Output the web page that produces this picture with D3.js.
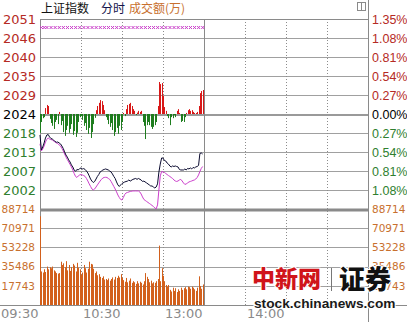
<!DOCTYPE html>
<html>
<head>
<meta charset="utf-8">
<script src="https://cdn.jsdelivr.net/npm/d3@7"></script>
<style>
html,body{margin:0;padding:0;background:#fff;}
svg{display:block;}
</style>
</head>
<body>
<div class="chart" style="width:407px;height:322px"></div>
<script>
//Data
const PREV_CLOSE = 2023.8;
const pctTicks = [1.35, 1.08, 0.81, 0.54, 0.27, 0, -0.27, -0.54, -0.81, -1.08];
const priceLabels = ['2051','2046','2040','2035','2029','2024','2018','2013','2007','2002'];
const pctLabels = ['1.35%','1.08%','0.81%','0.54%','0.27%','0.00%','0.27%','0.54%','0.81%','1.08%'];
const volTicks = [88714, 70971, 53228, 35486, 17743];
const gridMinutes = [30, 60, 90, 150, 180, 210];
const timeLabels = [[0,'09:30'], [60,'10:30'], [120,'13:00'], [180,'14:00']];

//index line, [minute, value]
const indexLine = [[0,2017.76],[1,2013.45],[2,2014.3],[3,2015.47],[4,2016.9],[5,2017.76],[6,2017.9],[7,2017.2],[8,2016.76],[9,2016.6],
	[10,2016.3],[11,2015.9],[12,2015.67],[13,2015.75],[14,2015.47],[15,2015.2],[16,2014.6],[17,2013.9],[18,2012.9],[19,2012.0],
	[20,2011.4],[21,2010.6],[22,2010.0],[23,2009.15],[24,2008.57],[25,2007.7],[26,2007.3],[27,2007.85],[28,2007.7],[29,2008.1],
	[30,2008.28],[31,2008.0],[32,2008.1],[33,2007.85],[34,2007.4],[35,2006.84],[36,2006.0],[37,2005.1],[38,2004.5],[39,2004.1],
	[40,2004.4],[41,2005.1],[42,2005.84],[43,2006.4],[44,2007.13],[45,2007.4],[46,2007.7],[47,2007.85],[48,2008.0],[49,2007.85],
	[50,2007.7],[51,2007.4],[52,2007.13],[53,2006.56],[54,2005.84],[55,2005.26],[56,2004.26],[57,2003.4],[58,2002.96],[59,2003.4],
	[60,2003.8],[62,2004.26],[64,2004.5],[65,2004.83],[66,2004.5],[68,2005.0],[70,2005.26],[71,2005.0],[72,2005.26],[74,2004.83],
	[75,2004.4],[76,2004.5],[78,2003.97],[80,2003.4],[81,2003.1],[82,2003.1],[83,2002.8],[84,2002.53],[85,2002.8],[86,2003.7],
	[87,2007.1],[88,2009.4],[89,2011.15],[90,2011.15],[91,2010.44],[92,2010.3],[93,2009.7],[94,2009.4],[95,2008.85],[96,2008.57],
	[97,2008.85],[98,2008.7],[99,2008.85],[100,2008.7],[101,2008.57],[102,2007.85],[103,2007.7],[104,2007.7],[105,2007.7],[106,2008.0],
	[107,2007.7],[108,2008.14],[109,2008.0],[110,2008.28],[111,2008.0],[112,2008.42],[113,2008.28],[114,2008.57],[115,2008.7],[116,2009.0],
	[117,2012.45],[118,2012.6],[119,2012.3]];

//average line, [minute, value]
const avgLine = [[0,2015.2],[1,2013.17],[2,2013.75],[3,2014.6],[4,2015.75],[5,2016.5],[6,2016.9],[7,2016.6],[8,2016.47],[9,2016.33],
	[10,2016.04],[11,2015.75],[12,2015.47],[13,2015.3],[14,2014.9],[15,2014.6],[16,2013.9],[17,2013.17],[18,2012.3],[19,2011.45],
	[20,2010.7],[21,2010.0],[22,2009.29],[23,2008.57],[24,2007.7],[25,2006.7],[26,2005.84],[27,2005.55],[28,2006.0],[29,2006.27],
	[30,2006.4],[31,2006.27],[32,2006.1],[33,2005.84],[34,2005.26],[35,2004.54],[36,2003.7],[37,2002.96],[38,2002.24],[39,2001.96],
	[40,2002.24],[41,2002.8],[42,2003.4],[43,2003.97],[44,2004.54],[45,2005.0],[46,2005.4],[47,2005.55],[48,2005.6],[49,2005.55],
	[50,2005.26],[51,2005.0],[52,2004.4],[53,2003.7],[54,2002.96],[55,2002.24],[56,2001.4],[57,2000.5],[58,1999.8],[59,1999.23],
	[60,1999.08],[61,1999.8],[62,2000.66],[63,2001.1],[64,2001.24],[66,2001.53],[68,2001.67],[70,2001.67],[72,2001.67],[73,2001.4],
	[74,2000.8],[75,1999.95],[76,1999.23],[77,1998.94],[78,1998.65],[79,1998.37],[80,1998.08],[81,1997.8],[82,1997.5],[83,1997.2],
	[84,1996.8],[85,1996.5],[86,1997.65],[87,2001.96],[88,2006.0],[89,2007.27],[90,2007.13],[91,2007.0],[92,2006.7],[93,2006.4],
	[94,2006.1],[95,2005.84],[96,2005.55],[97,2005.26],[98,2004.83],[99,2004.54],[100,2004.4],[101,2004.54],[102,2004.83],[103,2005.0],
	[104,2004.54],[105,2003.97],[106,2003.54],[107,2003.7],[108,2003.97],[109,2004.26],[110,2004.4],[111,2004.54],[112,2004.7],[113,2004.83],
	[114,2005.1],[115,2005.55],[116,2006.27],[117,2007.27],[118,2008.14],[119,2008.7]];

//red / green strength bars, points above or below previous close, one per minute
const strength = [-5.4,-2.3,-1.2,-0.9,1.7,2.6,2.3,-1.4,-2.6,-3.4,
	-4.3,-2.3,-1.7,-2.9,0.6,-3.2,-2.0,-5.2,-6.3,-4.6,
	-3.4,-5.4,-4.3,-2.9,-6.0,-4.9,-6.6,-5.4,-2.3,-0.9,
	-0.6,-1.7,-3.4,-2.6,-4.6,-5.7,-4.0,-6.9,-5.2,-2.9,
	-1.1,1.1,2.3,3.2,4.0,3.7,2.6,1.1,-0.9,-1.7,
	-2.9,-3.7,-2.6,-4.6,-6.3,-5.2,-4.0,-5.7,-3.4,-4.6,
	-2.3,0.3,-0.6,1.4,2.6,2.9,3.2,2.3,1.4,0.9,
	-0.3,0.4,0.9,0.6,0.9,-2.3,-3.4,-7.2,-3.2,-2.3,
	-3.2,-3.7,-4.3,-3.7,-3.2,-2.3,2.3,9.2,8.6,8.9,
	5.2,2.0,0.9,-0.6,-1.2,-3.2,-0.9,-1.2,-0.3,-0.9,
	0.9,1.4,0.3,-2.3,-2.0,-2.3,-0.9,0.3,1.1,1.4,
	0.9,1.1,0.6,0.3,0.3,0.6,2.3,6.0,6.6,6.9];

//turnover (10k yuan), one per minute
const volume = [82000,31000,30000,33000,30500,35500,33000,35000,34000,35500,
	32000,31000,29500,29000,29500,40000,37000,38500,35000,40500,
	32000,37000,31500,35000,38000,36500,31000,39000,34500,33000,
	28000,30000,37000,34000,30000,33500,40000,38000,37500,33500,
	29500,31000,27500,28500,26000,25000,26500,23500,24000,23000,
	24500,22500,24000,25500,23500,26000,25000,27000,25500,28500,
	25000,23000,21500,25000,21000,22500,24500,20500,22000,21000,
	19500,22000,20000,21500,20500,19000,22000,29500,26000,24000,
	21000,22500,20000,21000,20500,22000,24000,54900,22000,34000,
	27000,22000,18500,17000,18500,14000,12500,16000,13000,15500,
	12000,14500,13000,16000,14000,15500,16500,14500,17000,16500,
	15000,17000,16000,14500,13000,16000,26500,17500,15000,19000];

//minutes carrying the magenta cross marks
const markMinutes = [0,2,4,7,10,13,16,19,22,25,28,31,34,37,40,43,46,49,52,55,
	58,61,64,67,70,73,76,79,82,85,88,91,94,97,100,103,106,109,112,115,118];

//Prep work
const W = 407, H = 322;
const plotL = 40, plotR = 368, plotT = 19, priceB = 209, volB = 305;

const svg = d3.select('.chart').append('svg')
	.attr('width', W).attr('height', H)
	.style('font-family', '"DejaVu Sans", sans-serif');

const scaleX = d3.scaleLinear().domain([0, 240]).range([plotL, plotR]);
const scalePct = d3.scaleLinear().domain([-1.35, 1.35]).range([priceB, plotT]);
const scalePrice = d3.scaleLinear()
	.domain([PREV_CLOSE*(1-0.0135), PREV_CLOSE*(1+0.0135)])
	.range([priceB, plotT]);
const scaleVol = d3.scaleLinear().domain([0, 88714]).range([volB, priceB]);

const RED = '#b52a24', GREEN = '#2f7f2f', ORANGE = '#c8702e';
const tickColor = function(p){ return p > 0 ? RED : (p < 0 ? GREEN : '#000'); };
const crisp = function(v){ return Math.round(v) + 0.5; };

//Grid
const grid = svg.append('g').attr('class','grid');

grid.selectAll('.hline')
	.data(pctTicks.concat(volTicks.slice(1).map(function(v){return 'v'+v;})))
	.enter().append('line')
	.attr('class','hline')
	.attr('x1', plotL).attr('x2', plotR)
	.attr('y1', function(d){ return crisp(typeof d === 'number' ? scalePct(d) : scaleVol(+d.slice(1))); })
	.attr('y2', function(d){ return crisp(typeof d === 'number' ? scalePct(d) : scaleVol(+d.slice(1))); })
	.style('stroke', '#a0a0a0').style('stroke-width', 1);

grid.selectAll('.vline')
	.data(gridMinutes)
	.enter().append('line')
	.attr('class','vline')
	.attr('x1', function(d){ return crisp(scaleX(d)); })
	.attr('x2', function(d){ return crisp(scaleX(d)); })
	.attr('y1', plotT).attr('y2', volB)
	.style('stroke', '#8c8c8c').style('stroke-dasharray', '1,2');

//zero line, pane separator and frame
grid.append('line')
	.attr('x1', plotL).attr('x2', plotR)
	.attr('y1', Math.round(scalePct(0)) + 1).attr('y2', Math.round(scalePct(0)) + 1)
	.style('stroke', '#9a9a9a').style('stroke-width', 2);
grid.append('line')
	.attr('x1', plotL).attr('x2', plotR)
	.attr('y1', Math.round(priceB) + 1).attr('y2', Math.round(priceB) + 1)
	.style('stroke', '#8a8a8a').style('stroke-width', 3);
grid.append('line')
	.attr('x1', crisp(scaleX(120))).attr('x2', crisp(scaleX(120)))
	.attr('y1', plotT).attr('y2', volB)
	.style('stroke', '#8a8a8a');
grid.append('line')
	.attr('x1', plotL + 0.5).attr('x2', plotL + 0.5)
	.attr('y1', plotT).attr('y2', volB)
	.style('stroke', '#8a8a8a');
grid.append('line')
	.attr('x1', plotR + 0.5).attr('x2', plotR + 0.5)
	.attr('y1', 0).attr('y2', H)
	.style('stroke', '#8a8a8a');
grid.append('line')
	.attr('x1', plotL).attr('x2', plotR)
	.attr('y1', plotT + 0.5).attr('y2', plotT + 0.5)
	.style('stroke', '#8a8a8a');
grid.append('line')
	.attr('x1', 0).attr('x2', W)
	.attr('y1', volB + 0.5).attr('y2', volB + 0.5)
	.style('stroke', '#8a8a8a');

//Strength bars
svg.append('g').selectAll('line')
	.data(strength)
	.enter().append('line')
	.attr('x1', function(d,i){ return crisp(scaleX(i)); })
	.attr('x2', function(d,i){ return crisp(scaleX(i)); })
	.attr('y1', scalePrice(PREV_CLOSE))
	.attr('y2', function(d){ return scalePrice(PREV_CLOSE + d); })
	.style('stroke', function(d){ return d >= 0 ? '#d81818' : '#1e7d1e'; })
	.style('stroke-width', 1);

//Volume bars
svg.append('g').selectAll('rect')
	.data(volume)
	.enter().append('rect')
	.attr('x', function(d,i){ return Math.round(scaleX(i)); })
	.attr('width', 1)
	.attr('y', function(d){ return scaleVol(d); })
	.attr('height', function(d){ return volB - scaleVol(d); })
	.style('fill', '#d2601c');

//Lines
const line = d3.line()
	.x(function(d){ return scaleX(d[0]); })
	.y(function(d){ return scalePrice(d[1]); });

svg.append('path').datum(avgLine)
	.attr('d', line)
	.style('fill', 'none').style('stroke', '#cc3fcc').style('stroke-width', 1);
svg.append('path').datum(indexLine)
	.attr('d', line)
	.style('fill', 'none').style('stroke', '#0b0b30').style('stroke-width', 1);

//Cross marks
svg.append('g').selectAll('path')
	.data(markMinutes)
	.enter().append('path')
	.attr('transform', function(d){ return `translate(${scaleX(d) + 1.5}, 27.5)`; })
	.attr('d', 'M-1.5,-1.5L1.5,1.5M-1.5,1.5L1.5,-1.5')
	.style('stroke', '#c83cc8').style('stroke-width', 1);

//Axis labels
svg.append('g').selectAll('text')
	.data(pctTicks)
	.enter().append('text')
	.attr('x', 36).attr('y', function(d){ return scalePct(d); })
	.attr('dy', '0.36em').attr('text-anchor', 'end')
	.style('font-size', '13px')
	.style('fill', tickColor)
	.text(function(d,i){ return priceLabels[i]; });

svg.append('g').selectAll('text')
	.data(pctTicks)
	.enter().append('text')
	.attr('x', 372).attr('y', function(d){ return scalePct(d); })
	.attr('dy', '0.36em')
	.style('font-family', '"Liberation Sans", Arial, sans-serif')
	.style('font-size', '12.5px')
	.style('fill', tickColor)
	.text(function(d,i){ return pctLabels[i]; });

svg.append('g').selectAll('text')
	.data(volTicks)
	.enter().append('text')
	.attr('x', 35).attr('y', function(d){ return scaleVol(d); })
	.attr('dy', '0.36em').attr('text-anchor', 'end')
	.style('font-size', '10.5px')
	.style('fill', ORANGE)
	.text(function(d){ return d; });

svg.append('g').selectAll('text')
	.data(volTicks)
	.enter().append('text')
	.attr('x', 372).attr('y', function(d){ return scaleVol(d); })
	.attr('dy', '0.36em')
	.style('font-size', '10.5px')
	.style('fill', ORANGE)
	.text(function(d){ return d; });

svg.append('g').selectAll('text')
	.data(timeLabels)
	.enter().append('text')
	.attr('x', function(d){ return scaleX(d[0]) - 1.5; })
	.attr('y', 318)
	.attr('text-anchor', 'end')
	.style('font-size', '13px')
	.style('fill', '#8a8a8a')
	.text(function(d){ return d[1]; });

//Header
const header = svg.append('text').attr('y', 13)
	.style('font-family', '"Noto Sans CJK SC", sans-serif').style('font-size', '12px');
header.append('tspan').attr('x', 41).style('fill', '#111').text('上证指数');
header.append('tspan').attr('x', 101).style('fill', '#14144a').text('分时');
header.append('tspan').attr('x', 129).style('fill', ORANGE).text('成交额(万)');

//small toggle icon, top right
svg.append('rect').attr('x', 357.5).attr('y', 2.5).attr('width', 8).attr('height', 8)
	.style('fill', '#fff').style('stroke', '#8a8a8a');
svg.append('line').attr('x1', 361.5).attr('x2', 361.5).attr('y1', 2.5).attr('y2', 10.5)
	.style('stroke', '#8a8a8a');

//Watermark
const wm = svg.append('g').attr('class','watermark');
wm.append('text').attr('x', 252).attr('y', 287)
	.style('font-family', '"Noto Sans CJK SC", sans-serif').style('font-weight', 900)
	.style('font-size', '23px').style('fill', '#d0141a')
	.style('stroke', '#fff').style('stroke-width', 2).style('paint-order', 'stroke')
	.text('中新网');
wm.append('line').attr('x1', 331.5).attr('x2', 331.5).attr('y1', 268).attr('y2', 291)
	.style('stroke', '#777');
wm.append('text').attr('x', 339).attr('y', 289)
	.style('font-family', '"Noto Sans CJK SC", sans-serif').style('font-weight', 900)
	.style('font-size', '26px').style('fill', '#111')
	.style('stroke', '#fff').style('stroke-width', 2).style('paint-order', 'stroke')
	.text('证券');
wm.append('text').attr('x', 254).attr('y', 308)
	.style('font-family', '"Liberation Sans", Arial, sans-serif').style('font-weight', 'bold')
	.style('font-size', '13.7px').style('fill', '#1a1a1a')
	.style('stroke', '#fff').style('stroke-width', 2).style('paint-order', 'stroke')
	.text('stock.chinanews.com');
</script>
</body>
</html>
